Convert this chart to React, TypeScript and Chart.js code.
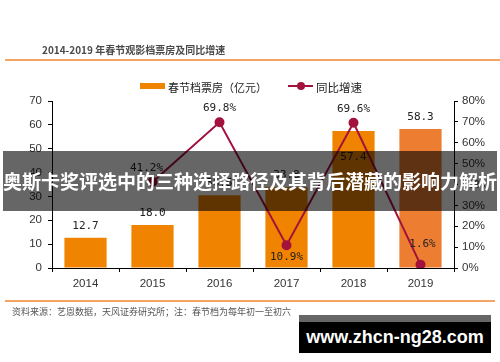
import React, { useEffect, useRef } from "react";
import { Chart, registerables } from "chart.js";

Chart.register(...registerables);

const years = ["2014", "2015", "2016", "2017", "2018", "2019"];
const boxOffice = [12.7, 18.0, 30.5, 33.8, 57.4, 58.3];
const growth = [null, 41.2, 69.8, 10.9, 69.6, 1.6];
const barColors = ["#F08300", "#F08300", "#F08300", "#F08300", "#F08300", "#ED7D31"];
const leftTicks = [0, 10, 20, 30, 40, 50, 60, 70];
const rightTicks = [0, 10, 20, 30, 40, 50, 60, 70, 80];

const LINE = "#A3123D";
const CJK = '"Noto Sans CJK SC", "Liberation Sans", sans-serif';

// label placement: [dx, dy] relative to the mark
const barLabelPos: Array<"above" | "inside"> = ["above", "above", "above", "above", "inside", "above"];
const lineLabelPos: Array<[number, number]> = [[0, 0], [-6, -14], [0, -14], [0, 12], [0, -14], [2, -21]];

const labelPlugin = {
  id: "valueLabels",
  afterDatasetsDraw(chart: any) {
    const ctx = chart.ctx;
    ctx.save();
    ctx.font = '11px "DejaVu Sans Mono", monospace';
    ctx.fillStyle = "#222";
    ctx.textAlign = "center";
    ctx.textBaseline = "middle";
    const barMeta = chart.getDatasetMeta(1);
    barMeta.data.forEach((el: any, i: number) => {
      const txt = boxOffice[i].toFixed(1);
      const y = barLabelPos[i] === "above" ? el.y - 12 : el.y + 26;
      ctx.fillText(txt, el.x, y);
    });
    const lineMeta = chart.getDatasetMeta(0);
    lineMeta.data.forEach((el: any, i: number) => {
      const v = growth[i];
      if (v == null) return;
      const [dx, dy] = lineLabelPos[i];
      ctx.fillText(v.toFixed(1) + "%", el.x + dx, el.y + dy);
    });
    ctx.restore();
  },
};

export default function App() {
  const ref = useRef<HTMLCanvasElement | null>(null);
  useEffect(() => {
    if (!ref.current) return;
    const tickFont = { family: '"Liberation Sans", Arial, sans-serif', size: 11.5 };
    const chart = new Chart(ref.current, {
      type: "bar",
      data: {
        labels: years,
        datasets: [
          {
            type: "line",
            label: "同比增速",
            data: growth as any,
            yAxisID: "y1",
            borderColor: LINE,
            backgroundColor: LINE,
            borderWidth: 2,
            pointRadius: 4,
            pointBackgroundColor: LINE,
            pointBorderColor: LINE,
            spanGaps: false,
            order: 0,
          } as any,
          {
            type: "bar",
            label: "春节档票房（亿元）",
            data: boxOffice,
            yAxisID: "y",
            backgroundColor: barColors,
            barPercentage: 0.63,
            categoryPercentage: 1,
            order: 1,
          },
        ],
      },
      options: {
        animation: false,
        responsive: false,
        maintainAspectRatio: false,
        layout: { padding: { top: 101, left: 0, right: 0, bottom: 0 } },
        plugins: { legend: { display: false }, tooltip: { enabled: false } },
        scales: {
          x: {
            grid: { drawOnChartArea: false, color: "#000", tickLength: 4 },
            border: { color: "#000", width: 1 },
            ticks: { color: "#333", font: tickFont, padding: 5 },
            afterFit: (s: any) => { s.height = 94; },
          },
          y: {
            position: "left",
            min: 0,
            max: 70,
            afterBuildTicks: (s: any) => { s.ticks = leftTicks.map((v) => ({ value: v })); },
            grid: { drawOnChartArea: false, color: "#000", tickLength: 4 },
            border: { color: "#000", width: 1 },
            ticks: { color: "#333", font: tickFont, padding: 6 },
            afterFit: (s: any) => { s.width = 52; },
          },
          y1: {
            position: "right",
            min: 0,
            max: 80,
            afterBuildTicks: (s: any) => { s.ticks = rightTicks.map((v) => ({ value: v })); },
            grid: { drawOnChartArea: false, color: "#000", tickLength: 4 },
            border: { color: "#000", width: 1 },
            ticks: { color: "#333", font: tickFont, padding: 4, callback: (v: any) => v + "%" },
            afterFit: (s: any) => { s.width = 46; },
          },
        },
      } as any,
      plugins: [labelPlugin],
    });
    return () => chart.destroy();
  }, []);

  return (
    <div style={{ position: "absolute", left: 0, top: 0, width: 500, height: 362, background: "#fff", overflow: "hidden", fontFamily: CJK }}>
      <canvas ref={ref} width={500} height={362} style={{ position: "absolute", left: 0, top: 0, width: 500, height: 362 }} />
      <div style={{ position: "absolute", left: 42, top: 42, fontSize: 10, fontWeight: 700, color: "#4a4a4a", whiteSpace: "nowrap", lineHeight: "16px" }}>
        2014-2019 年春节观影档票房及同比增速
      </div>
      <div style={{ position: "absolute", left: 5, top: 59, width: 495, height: 2, background: "#F4A563" }} />
      <div style={{ position: "absolute", left: 140, top: 83, width: 25, height: 6, background: "#F08300" }} />
      <div style={{ position: "absolute", left: 168, top: 78, fontSize: 11, color: "#222", whiteSpace: "nowrap", lineHeight: "18px" }}>春节档票房（亿元）</div>
      <div style={{ position: "absolute", left: 288, top: 85, width: 25, height: 2, background: LINE }} />
      <div style={{ position: "absolute", left: 297, top: 82, width: 8, height: 8, borderRadius: 4, background: LINE }} />
      <div style={{ position: "absolute", left: 316, top: 78, fontSize: 11.5, color: "#222", whiteSpace: "nowrap", lineHeight: "18px" }}>同比增速</div>
      <div style={{ position: "absolute", left: 5, top: 300, width: 490, height: 2, background: "#F4A563" }} />
      <div style={{ position: "absolute", left: 12, top: 305, fontSize: 9, color: "#555", whiteSpace: "nowrap", lineHeight: "14px" }}>
        资料来源：艺恩数据，天风证券研究所；注：春节档为每年初一至初六
      </div>
      <div style={{ position: "absolute", left: 3, top: 151, width: 494, height: 60, background: "rgba(0,0,0,0.6)" }} />
      <div style={{ position: "absolute", left: 0, top: 151, width: 500, height: 60, lineHeight: "60px", textAlign: "center", fontSize: 19, fontWeight: 700, color: "#fff", whiteSpace: "nowrap" }}>
        奥斯卡奖评选中的三种选择路径及其背后潜藏的影响力解析
      </div>
      <div style={{ position: "absolute", left: 299, top: 315, width: 192, height: 7, background: "#666" }} />
      <div style={{ position: "absolute", left: 299, top: 322, width: 192, height: 31, background: "#000", color: "#fff", fontFamily: '"Liberation Sans", Arial, sans-serif', fontWeight: 700, fontSize: 18, lineHeight: "31px", textAlign: "center", whiteSpace: "nowrap" }}>
        www.zhcn-ng28.com
      </div>
    </div>
  );
}
